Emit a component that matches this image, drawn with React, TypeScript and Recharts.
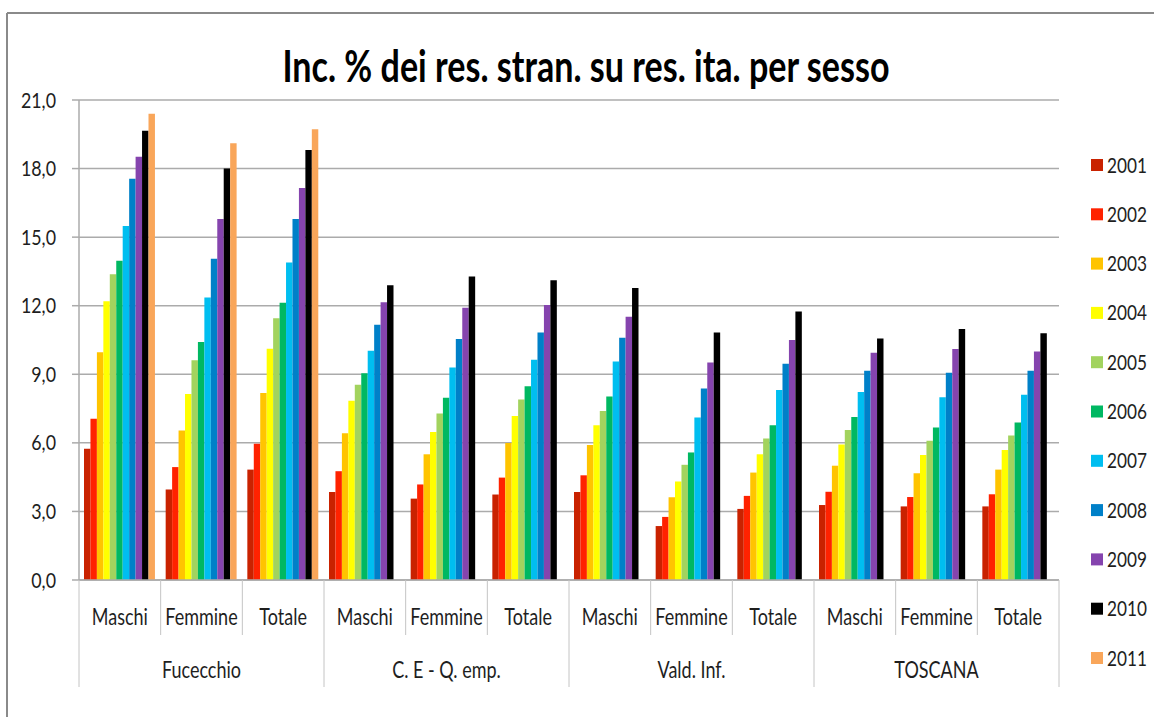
import React from 'react';
import { BarChart, Bar, XAxis, YAxis, CartesianGrid } from 'recharts';

const W = 1154;
const H = 717;
const PLOT = { left: 79, right: 1059, top: 100, bottom: 580 };

const subLabels = ['Maschi', 'Femmine', 'Totale', 'Maschi', 'Femmine', 'Totale', 'Maschi', 'Femmine', 'Totale', 'Maschi', 'Femmine', 'Totale'];
const groupLabels = ['Fucecchio', 'C. E - Q. emp.', 'Vald. Inf.', 'TOSCANA'];
const years = ['2001', '2002', '2003', '2004', '2005', '2006', '2007', '2008', '2009', '2010', '2011'];
const colors = ['#C92200', '#FF2200', '#FFC400', '#FFFF00', '#A2D35E', '#00B862', '#00BEF0', '#0080C8', '#8544AE', '#000000', '#F9A65A'];
const yTicks = [0, 3, 6, 9, 12, 15, 18, 21];

const v2001 = [5.74, 3.96, 4.83, 3.85, 3.56, 3.74, 3.85, 2.36, 3.11, 3.28, 3.22, 3.22];
const v2002 = [7.05, 4.94, 5.96, 4.76, 4.18, 4.48, 4.58, 2.76, 3.68, 3.86, 3.63, 3.75];
const v2003 = [9.96, 6.54, 8.18, 6.42, 5.5, 5.99, 5.91, 3.62, 4.7, 5.0, 4.67, 4.83];
const v2004 = [12.19, 8.14, 10.12, 7.84, 6.48, 7.17, 6.77, 4.31, 5.5, 5.93, 5.47, 5.69];
const v2005 = [13.38, 9.61, 11.45, 8.54, 7.28, 7.9, 7.39, 5.04, 6.19, 6.56, 6.09, 6.32];
const v2006 = [13.97, 10.41, 12.13, 9.05, 7.97, 8.48, 8.03, 5.58, 6.77, 7.13, 6.67, 6.89];
const v2007 = [15.49, 12.36, 13.89, 10.03, 9.3, 9.64, 9.56, 7.11, 8.31, 8.22, 7.99, 8.11];
const v2008 = [17.55, 14.05, 15.79, 11.17, 10.54, 10.83, 10.6, 8.38, 9.46, 9.15, 9.07, 9.15];
const v2009 = [18.52, 15.79, 17.15, 12.15, 11.91, 12.03, 11.52, 9.52, 10.5, 9.94, 10.11, 10.0];
const v2010 = [19.66, 18.0, 18.81, 12.89, 13.28, 13.11, 12.77, 10.83, 11.75, 10.57, 10.98, 10.8];
const v2011 = [20.4, 19.11, 19.72, null, null, null, null, null, null, null, null, null];

const seriesValues = [v2001, v2002, v2003, v2004, v2005, v2006, v2007, v2008, v2009, v2010, v2011];

const data = subLabels.map((sub, i) => {
  const row: Record<string, any> = { sub };
  years.forEach((yr, s) => {
    row['y' + yr] = seriesValues[s][i];
  });
  return row;
});

const FONT = 'Lato, "Open Sans", sans-serif';
const GRID = '#ABABAB';
const SEP = '#C4C4C4';
const TXT = '#1E1E1E';

const fmt = (v: number) => v.toFixed(1).replace('.', ',');

function YTick(props: any) {
  const { y, payload } = props;
  return (
    <text
      transform={`translate(56 ${y + 7.5}) scale(0.85 1)`}
      textAnchor="end"
      fontFamily={FONT}
      fontSize={21}
      fill={TXT}
    >
      {fmt(payload.value)}
    </text>
  );
}

function XTick(props: any) {
  const { x, payload, index } = props;
  const i = payload && payload.index !== undefined ? payload.index : index;
  const half = (PLOT.right - PLOT.left) / subLabels.length / 2;
  const top = PLOT.bottom;
  const isGroupStart = i % 3 === 0;
  const isLast = i === subLabels.length - 1;
  return (
    <g>
      <line x1={x - half} x2={x - half} y1={top} y2={top + (isGroupStart ? 107 : 55)} stroke={SEP} strokeWidth={1} />
      {isLast && <line x1={x + half} x2={x + half} y1={top} y2={top + 107} stroke={SEP} strokeWidth={1} />}
      <text
        transform={`translate(${x} 625) scale(0.8 1)`}
        textAnchor="middle"
        fontFamily={FONT}
        fontSize={22.5}
        fill={TXT}
      >
        {subLabels[i]}
      </text>
      {i % 3 === 1 && (
        <text
          transform={`translate(${x} 678) scale(0.8 1)`}
          textAnchor="middle"
          fontFamily={FONT}
          fontSize={22.5}
          fill={TXT}
        >
          {groupLabels[(i - 1) / 3]}
        </text>
      )}
    </g>
  );
}

export default function App() {
  return (
    <div style={{ position: 'fixed', left: 0, top: 0, width: W, height: H, overflow: 'hidden', background: '#fff' }}>
      <BarChart
        width={W}
        height={H}
        data={data}
        margin={{ top: PLOT.top, right: W - PLOT.right, left: 0, bottom: 27 }}
        barSize={6.45}
        barGap={0}
      >
        <CartesianGrid horizontal={true} vertical={false} stroke={GRID} strokeWidth={1.5} />
        <XAxis
          dataKey="sub"
          interval={0}
          height={110}
          tickLine={false}
          axisLine={{ stroke: GRID, strokeWidth: 1.5 }}
          tick={<XTick />}
        />
        <YAxis
          width={PLOT.left}
          domain={[0, 21]}
          ticks={yTicks}
          interval={0}
          tickSize={7}
          tickLine={{ stroke: GRID, strokeWidth: 1.5 }}
          axisLine={{ stroke: GRID, strokeWidth: 1.5 }}
          tick={<YTick />}
        />
        {years.map((yr, s) => (
          <Bar key={yr} dataKey={'y' + yr} name={yr} fill={colors[s]} isAnimationActive={false} />
        ))}
      </BarChart>
      <svg
        width={W}
        height={H}
        style={{ position: 'absolute', left: 0, top: 0, pointerEvents: 'none' }}
      >
        <line x1={7} x2={W} y1={13} y2={13} stroke="#8A8A8A" strokeWidth={2} />
        <line x1={7} x2={7} y1={13} y2={H} stroke="#8A8A8A" strokeWidth={2} />
        <text
          x={586}
          y={82}
          textAnchor="middle"
          fontFamily={FONT}
          fontWeight={700}
          fontSize={43}
          textLength={607}
          lengthAdjust="spacingAndGlyphs"
          fill="#000"
        >
          Inc. % dei res. stran. su res. ita. per sesso
        </text>
        {years.map((yr, s) => {
          const cy = 165 + s * 49.3;
          return (
            <g key={yr}>
              <rect x={1091} y={cy - 6} width={12} height={12} fill={colors[s]} />
              <text
                transform={`translate(1107 ${cy + 7.5}) scale(0.82 1)`}
                fontFamily={FONT}
                fontSize={21}
                fill={TXT}
              >
                {yr}
              </text>
            </g>
          );
        })}
      </svg>
    </div>
  );
}
